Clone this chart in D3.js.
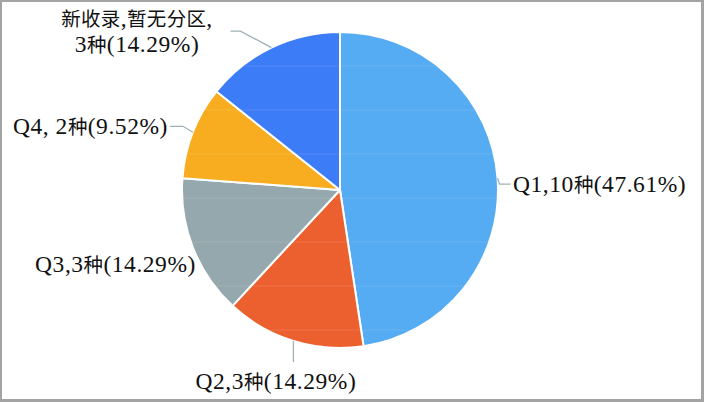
<!DOCTYPE html>
<html>
<head>
<meta charset="utf-8">
<script src="https://cdn.jsdelivr.net/npm/d3@7/dist/d3.min.js"></script>
<style>
html,body{margin:0;padding:0;background:#fff;}
svg{display:block;}
</style>
</head>
<body>
<svg id="chart" width="704" height="402"></svg>
<script>
// ---- data ----
const categories = ["Q1", "Q2", "Q3", "Q4", "新收录,暂无分区"];
const counts = [10, 3, 3, 2, 3];
const percentLabels = ["47.61%", "14.29%", "14.29%", "9.52%", "14.29%"];
const labelLines = [
  ["Q1,10种(47.61%)"],
  ["Q2,3种(14.29%)"],
  ["Q3,3种(14.29%)"],
  ["Q4, 2种(9.52%)"],
  ["新收录,暂无分区,", "3种(14.29%)"]
];
const colors = ["#55acf3", "#ec5f2e", "#95a8ad", "#f7ad1f", "#3c7cf6"];

// ---- layout (label placement relative to slice edge point) ----
const layout = [
  {leader: [[2, 6], [13, 6]], tx: 15.5, ty: 6.5, anchor: "start"},
  {leader: [[0, 21]], tx: -17.5, ty: 41, anchor: "middle"},
  {leader: [], tx: 3, ty: 17, anchor: "end"},
  {leader: [[-10, -6], [-23, -6]], tx: -25, ty: -5.5, anchor: "end"},
  {leader: [[-31, -16.5], [-41, -16.5]], tx: -134.5, ty: -29, anchor: "middle", lh: 26.5}
];

const W = 704, H = 402;
const cx = 340, cy = 190, R = 158;
const svg = d3.select("#chart");

// frame
svg.append("rect").attr("x", 0).attr("y", 0).attr("width", W).attr("height", H).attr("fill", "#a3a3a3");
svg.append("rect").attr("x", 2).attr("y", 2).attr("width", W - 5).attr("height", H - 5).attr("fill", "#ffffff");

const pie = d3.pie().sort(null).value(d => d)(counts);
const arc = d3.arc().innerRadius(0).outerRadius(R);

const g = svg.append("g").attr("transform", `translate(${cx},${cy})`);

g.selectAll("path.slice").data(pie).join("path")
  .attr("class", "slice")
  .attr("d", arc)
  .attr("fill", (d, i) => colors[i])
  .attr("stroke", "#ffffff")
  .attr("stroke-width", 2)
  .attr("stroke-linejoin", "round");

// faint horizontal streaks over the pie
const clip = svg.append("defs").append("clipPath").attr("id", "pieclip");
clip.append("circle").attr("cx", 0).attr("cy", 0).attr("r", R - 1);
const streaks = d3.range(-124, R, 44);
g.append("g").attr("clip-path", "url(#pieclip)")
  .selectAll("line").data(streaks).join("line")
  .attr("x1", -R).attr("x2", R)
  .attr("y1", d => d).attr("y2", d => d)
  .attr("stroke", "#ffffff").attr("stroke-opacity", 0.12).attr("stroke-width", 1);

// labels
const edge = d => {
  const a = (d.startAngle + d.endAngle) / 2;
  return [R * Math.sin(a), -R * Math.cos(a)];
};
const isCJK = ch => /[\u3000-\u9fff\uff00-\uffef]/.test(ch);
const splitRuns = s => {
  const runs = [];
  for (const ch of s) {
    const c = isCJK(ch);
    if (runs.length && runs[runs.length - 1].c === c) runs[runs.length - 1].t += ch;
    else runs.push({c, t: ch});
  }
  return runs;
};

pie.forEach((d, i) => {
  const [ex, ey] = edge(d);
  const L = layout[i];
  if (L.leader.length) {
    const pts = [[ex, ey]].concat(L.leader.map(p => [ex + p[0], ey + p[1]]));
    g.append("path")
      .attr("d", d3.line()(pts))
      .attr("fill", "none")
      .attr("stroke", "#9fb1b5")
      .attr("stroke-width", 1.3);
  }
  labelLines[i].forEach((line, k) => {
    const t = g.append("text")
      .attr("x", ex + L.tx)
      .attr("y", ey + L.ty + k * (L.lh || 0) + 7)
      .attr("text-anchor", L.anchor)
      .attr("fill", "#111");
    splitRuns(line).forEach(r => {
      t.append("tspan")
        .attr("font-family", r.c ? "'Noto Sans CJK SC', sans-serif" : "'Liberation Serif', 'Times New Roman', serif")
        .attr("font-size", r.c ? 19.5 : 23.5)
        .attr("letter-spacing", r.c ? 0.3 : 0.55)
        .text(r.t);
    });
  });
});
</script>
</body>
</html>
